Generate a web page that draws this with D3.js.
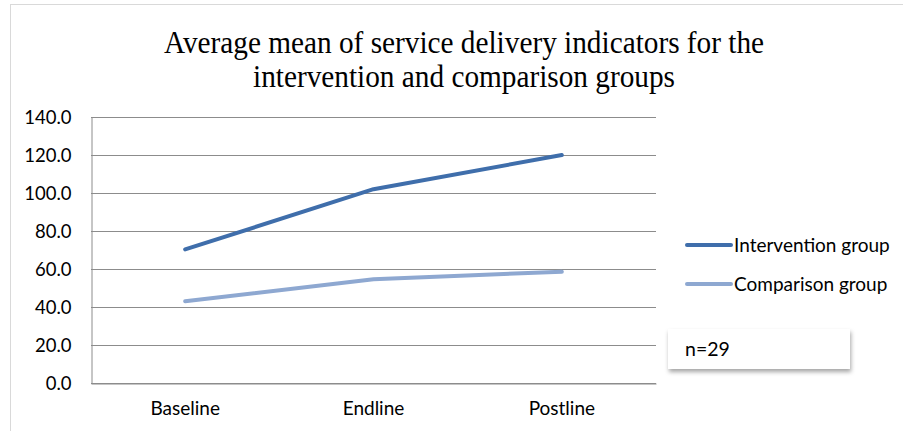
<!DOCTYPE html>
<html>
<head>
<meta charset="utf-8">
<script src="https://cdn.jsdelivr.net/npm/d3@7"></script>
<style>
  body { margin: 0; background: #fff; }
  text { font-family: Lato, "Open Sans", sans-serif; }
</style>
</head>
<body>
<script>
"use strict";

// data
var categories = ["Baseline", "Endline", "Postline"];
var intervention = [70.3, 102.0, 120.0];
var comparison = [43.0, 54.6, 58.6];
var seriesNames = ["Intervention group", "Comparison group"];
var seriesColors = ["#3f6eab", "#8ea8d1"];
var yTicks = [0, 20, 40, 60, 80, 100, 120, 140];

var W = 903, H = 431;
var plot = {left: 91, right: 656, top: 117, bottom: 383};

var svg = d3.select("body").append("svg")
	.attr("width", W)
	.attr("height", H);

// chart frame
svg.append("rect")
	.attr("x", 10.5).attr("y", 4.5)
	.attr("width", W - 10).attr("height", H)
	.attr("fill", "#fff")
	.attr("stroke", "#d9d9d9");

// title (squeezed a little like the original)
var title = svg.append("text")
	.attr("text-anchor", "middle")
	.attr("transform", "translate(464,0) scale(0.945,1)")
	.style("font-family", "'Liberation Serif', 'Times New Roman', serif")
	.style("font-size", "31px")
	.attr("fill", "#000");
title.append("tspan").attr("x", 0).attr("y", 53).text("Average mean of service delivery indicators for the");
title.append("tspan").attr("x", 0).attr("y", 87).text("intervention and comparison groups");

var x = d3.scaleBand()
	.domain(categories)
	.range([plot.left, plot.right]);

var y = d3.scaleLinear()
	.domain([0, 140])
	.range([plot.bottom, plot.top]);

// gridlines
svg.append("g").selectAll("line")
	.data(yTicks)
	.enter().append("line")
	.attr("x1", plot.left).attr("x2", plot.right)
	.attr("y1", function(d) { return Math.round(y(d)) + 0.5; })
	.attr("y2", function(d) { return Math.round(y(d)) + 0.5; })
	.attr("stroke", "#8c8c8c")
	.attr("stroke-width", 1);

// y axis
var yAxis = svg.append("g")
	.attr("transform", "translate(" + (plot.left + 0.5) + ",0.5)")
	.call(d3.axisLeft(y).tickValues(yTicks).tickFormat(d3.format(".1f")).tickSize(0).tickPadding(20));
yAxis.select(".domain").attr("stroke", "#8c8c8c");
yAxis.selectAll("text")
	.style("font-size", "18.5px")
	.attr("fill", "#000");

// x axis
var xAxis = svg.append("g")
	.attr("transform", "translate(0," + (plot.bottom + 0.5) + ")")
	.call(d3.axisBottom(x).tickSize(0).tickPadding(18));
xAxis.select(".domain").attr("stroke", "#8c8c8c");
xAxis.selectAll("text")
	.style("font-size", "19px")
	.attr("fill", "#000");

// lines
var line = d3.line()
	.x(function(d, i) { return x(categories[i]) + x.bandwidth() / 2; })
	.y(function(d) { return y(d); });

[intervention, comparison].forEach(function(vals, i) {
	svg.append("path")
		.datum(vals)
		.attr("d", line)
		.attr("fill", "none")
		.attr("stroke", seriesColors[i])
		.attr("stroke-width", 4)
		.attr("stroke-linecap", "round")
		.attr("stroke-linejoin", "round");
});

// legend
var legend = svg.append("g").selectAll("g")
	.data(seriesNames)
	.enter().append("g")
	.attr("transform", function(d, i) { return "translate(687," + (245 + i * 39) + ")"; });
legend.append("line")
	.attr("x1", 0).attr("x2", 44)
	.attr("stroke", function(d, i) { return seriesColors[i]; })
	.attr("stroke-width", 4)
	.attr("stroke-linecap", "round");
legend.append("text")
	.attr("x", 47).attr("dy", "0.35em")
	.style("font-size", "19px")
	.text(function(d) { return d; });

// n box with shadow
var defs = svg.append("defs");
var f = defs.append("filter").attr("id", "shadow").attr("x", "-10%").attr("y", "-20%").attr("width", "130%").attr("height", "160%");
f.append("feDropShadow").attr("dx", 1).attr("dy", 3).attr("stdDeviation", 2).attr("flood-color", "#000").attr("flood-opacity", 0.35);
svg.append("rect")
	.attr("x", 668).attr("y", 329)
	.attr("width", 182).attr("height", 40)
	.attr("fill", "#fff")
	.attr("filter", "url(#shadow)");
svg.append("text")
	.attr("x", 685).attr("y", 356)
	.style("font-size", "19.5px")
	.text("n=29");
</script>
</body>
</html>
